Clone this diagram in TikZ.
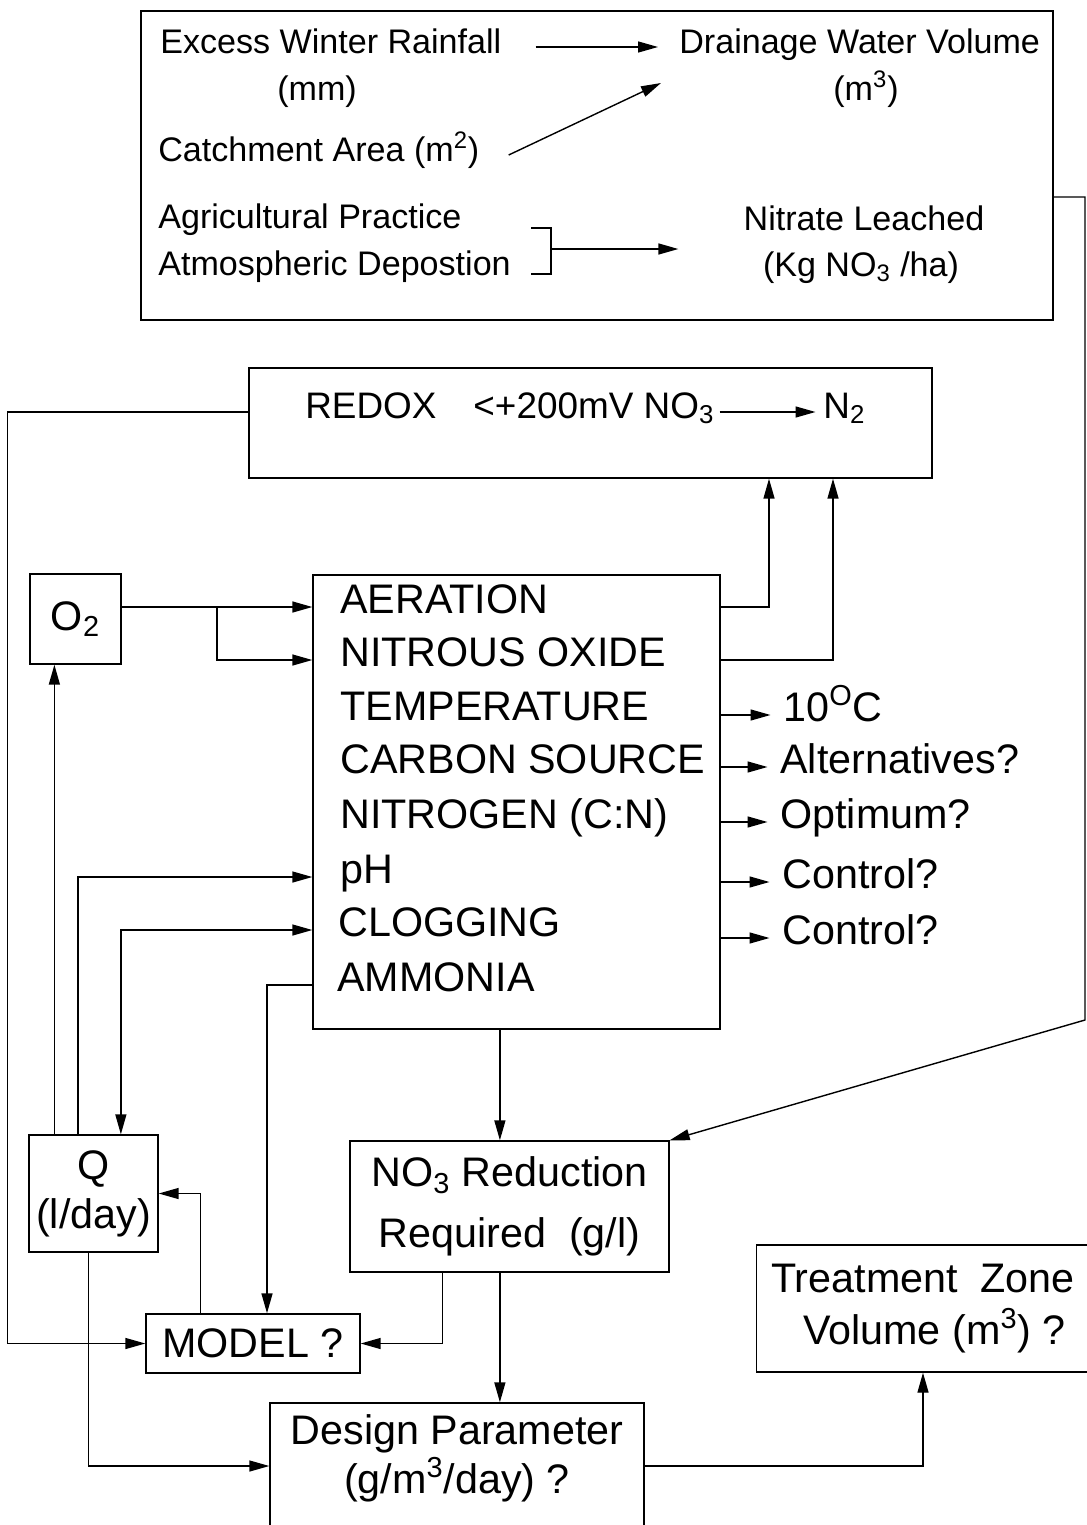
\documentclass[tikz,border=0pt]{standalone}
\usepackage{fontspec}
\setmainfont{Liberation Sans}
\usetikzlibrary{arrows.meta,calc}

\newcommand{\bigsize}{\fontsize{23.5}{28}\selectfont}
\newcommand{\topsize}{\fontsize{19.4}{24}\selectfont}
\newcommand{\redsize}{\fontsize{21}{25}\selectfont}

\begin{document}
\begin{tikzpicture}[
    x=0.02cm, y=-0.02cm,
    box/.style={draw, line width=0.8pt, inner sep=0pt, align=center, font=\bigsize},
    txt/.style={inner sep=0pt, text height=0.9em, text depth=0.19em},
    row/.style={txt, anchor=west, font=\bigsize},
    small/.style={txt, font=\topsize},
    arrow/.style={->, >={Triangle[length=4mm,width=2.2mm]}, line width=0.8pt}
]
\useasboundingbox (0,0) rectangle (1087,1525);
\clip (0,0) rectangle (1087,1525);

% --- catchment inputs (top) ---
\node[box, minimum width=18.24cm, minimum height=6.18cm] (catchbox) at (597,165.5) {};
\node[small, anchor=west] (rain) at (160,47) {Excess Winter Rainfall};
\node[small] (rainu) at (317,94) {(mm)};
\node[small, anchor=west] (drain) at (679,47) {Drainage Water Volume};
\node[small] (drainu) at (866,94) {(m\textsuperscript{3})};
\node[small, anchor=west] (catch) at (158,155) {Catchment Area (m\textsuperscript{2})};
\node[small, anchor=west] (agri) at (158,222) {Agricultural Practice};
\node[small, anchor=west] (atmo) at (158,269) {Atmospheric Depostion};
\node[small] (nitr) at (864,224) {Nitrate Leached};
\node[small] (nitru) at (861,270) {(Kg NO\textsubscript{3} /ha)};

\coordinate (dvin) at (661,83);
\coordinate (brkt) at (551,228);
\coordinate (brkb) at (551,274);
\coordinate (brkm) at (551,249);

\draw[arrow, shorten <=6.8mm, shorten >=4.2mm] (rain.east) -- (rain.east -| drain.west);
\draw[arrow] ([xshift=5.8mm]catch.east) -- (dvin);
\draw[line width=0.8pt] (brkt) ++(-20,0) -- (brkt) -- (brkb) -- ++(-20,0);
\draw[arrow, shorten >=13mm] (brkm) -- (brkm -| nitr.west);

% --- redox ---
\node[box, minimum width=13.66cm, minimum height=2.2cm] (redox) at (590.5,423) {};
\node[txt, anchor=west, font=\redsize] (redtxt) at (305,412) {REDOX\quad<+200mV NO\textsubscript{3}};
\node[txt, anchor=west, font=\redsize] (n2) at (823,412) {N\textsubscript{2}};
\draw[arrow, shorten <=1mm, shorten >=1.5mm] (redtxt.east) -- (n2.west);

% --- process factors ---
\node[box, minimum width=1.82cm, minimum height=1.8cm] (o2) at (75.5,619) {O\textsubscript{2}};
\node[box, minimum width=8.14cm, minimum height=9.08cm] (main) at (516.5,802) {};
\node[row] (aer) at (340,607) {AERATION};
\node[row] (nitox) at (340,660) {NITROUS OXIDE};
\node[row] (temp) at (340,714) {TEMPERATURE};
\node[row] (carb) at (340,767) {CARBON SOURCE};
\node[row] (nitro) at (340,822) {NITROGEN (C:N)};
\node[row] (ph) at (340,877) {pH};
\node[row] (clog) at (338,930) {CLOGGING};
\node[row] (amm) at (337,985) {AMMONIA};

\node[row] (t10) at (783,715) {10\textsuperscript{O}C};
\node[row] (alt) at (780,767) {Alternatives?};
\node[row] (opt) at (780,822) {Optimum?};
\node[row] (ctla) at (782,882) {Control?};
\node[row] (ctlb) at (782,938) {Control?};

\draw[arrow] (main.east |- aer) -| (769,0 |- redox.south);
\draw[arrow] (main.east |- nitox) -| (833,0 |- redox.south);
\foreach \lab in {t10,alt,opt,ctla,ctlb}
    \draw[arrow, shorten >=2.5mm] (main.east |- \lab.west) -- (\lab.west);

\draw[arrow] (o2.east |- aer) -- (main.west |- aer);
\draw[arrow] ($(o2.east |- aer)!0.5!(main.west |- aer)$) |- (main.west |- nitox);

% --- flow and model ---
\node[box, minimum width=2.58cm, minimum height=2.34cm] (q) at (93.5,1193.5) {Q\\(l/day)};
\node[box, minimum width=4.28cm, minimum height=1.18cm] (model) at (253,1343.5) {MODEL ?};
\node[box, minimum width=6.38cm, minimum height=2.62cm] (no3) at (509.5,1206.5)
    {NO\textsubscript{3} Reduction\\[7pt]Required\ \ (g/l)};
\node[box, minimum width=7.48cm, minimum height=2.52cm] (design) at (457,1466) {};
\node[font=\bigsize, align=center, inner sep=0pt] (designtxt) at (457,1458)
    {Design Parameter\\(g/m\textsuperscript{3}/day) ?};
\node[box, minimum width=6.66cm, minimum height=2.54cm] (treat) at (923,1308.5)
    {Treatment\ \ Zone\\[2pt]\ \ Volume (m\textsuperscript{3}) ?};

\coordinate (qa) at ($(q.north west)!0.2!(q.north east)$);
\coordinate (qb) at ($(q.north west)!0.38!(q.north east)$);
\coordinate (qc) at ($(q.north west)!0.71!(q.north east)$);
\coordinate (qd) at ($(q.south west)!0.46!(q.south east)$);
\coordinate (md) at ($(model.north west)!0.257!(model.north east)$);
\coordinate (mtop) at ($(model.north west)!0.565!(model.north east)$);
\coordinate (na) at ($(no3.south west)!0.29!(no3.south east)$);
\coordinate (nb) at ($(no3.north west)!0.47!(no3.north east)$);
\coordinate (rtop) at (1085,197);
\coordinate (rbend) at (1085,1020);

\draw[arrow] (qa) -- (qa |- o2.south);
\draw[arrow] (qb) |- (main.west |- ph);
\draw[arrow, <->] (qc) |- (main.west |- clog);
\draw[arrow] (main.west |- amm) -| (mtop);
\draw[arrow] (md) |- (q.east);
\draw[arrow] (na) |- (model.east);
\draw[arrow] (redox.west |- redtxt) -- ++(-241,0) |- (model.west);
\draw[arrow] (nb |- main.south) -- (nb);
\draw[arrow] (nb |- no3.south) -- (nb |- design.north);
\draw[arrow] (qd) |- (design.west);
\draw[arrow] (design.east) -| (treat.south);
\draw[arrow] (catchbox.east |- rtop) -- (rtop) -- (rbend) -- (no3.north east);

\end{tikzpicture}
\end{document}
